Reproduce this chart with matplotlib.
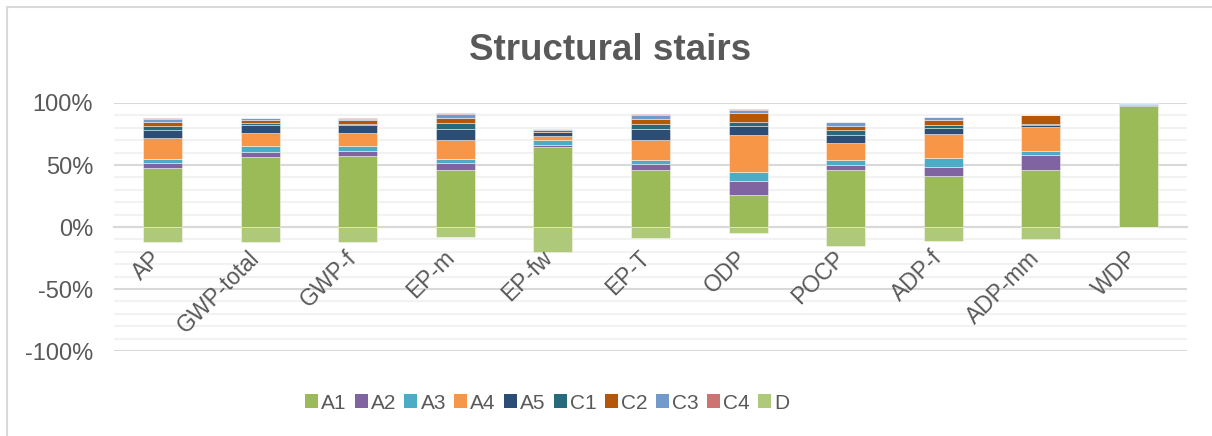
import numpy as np
import matplotlib
matplotlib.use('Agg')
import matplotlib.pyplot as plt
from matplotlib.patches import Patch, Rectangle
from matplotlib.ticker import FuncFormatter, MultipleLocator
from matplotlib.transforms import offset_copy

plt.rcParams['font.family'] = ['Liberation Sans', 'DejaVu Sans']

# kategorie wskaźników
categories = ['AP', 'GWP-total', 'GWP-f', 'EP-m', 'EP-fw', 'EP-T', 'ODP',
              'POCP', 'ADP-f', 'ADP-mm', 'WDP']

# udziały etapów w %
A1 = [47.3, 56.2, 57.0, 46.2, 64.2, 46.2, 26.1, 45.7, 41.1, 46.2, 97.8]
A2 = [4.3, 4.3, 4.0, 5.1, 1.6, 4.6, 11.3, 4.3, 7.3, 11.6, 0.2]
A3 = [3.2, 4.8, 4.3, 3.3, 4.3, 3.5, 7.2, 3.8, 7.2, 3.5, 1.2]
A4 = [17.0, 10.5, 10.2, 15.6, 3.5, 15.6, 29.9, 13.7, 19.1, 19.1, 0.1]
A5 = [6.4, 6.7, 6.8, 8.8, 2.9, 8.9, 7.0, 6.7, 5.4, 2.1, 0.1]
C1 = [3.2, 1.4, 1.0, 4.6, 0.5, 4.3, 3.4, 3.8, 1.9, 0.6, 0.0]
C2 = [3.2, 2.4, 2.7, 4.0, 1.0, 4.0, 7.0, 3.5, 4.3, 7.0, 0.1]
C3 = [2.4, 1.3, 1.1, 3.8, 0.8, 3.5, 2.5, 2.9, 2.1, 0.3, 0.1]
C4 = [0.5, 0.5, 0.5, 0.3, 0.5, 0.5, 0.5, 0.5, 0.6, 0.3, 0.1]
D = [-12.4, -12.4, -12.4, -8.3, -20.4, -8.9, -5.1, -15.1, -11.0, -9.7, 0.0]

stages = ['A1', 'A2', 'A3', 'A4', 'A5', 'C1', 'C2', 'C3', 'C4', 'D']
colours = ['#9BBB59', '#8064A2', '#4BACC6', '#F79646', '#2C4D75',
           '#276A7C', '#B65708', '#729ACA', '#CD7371', '#AFC97A']

txt = '#595959'

fig = plt.figure(figsize=(12.12, 4.36), dpi=100)
ax = fig.add_axes([114/1212, 1-351/436, (1187-114)/1212, (351-103)/436])

x = np.arange(len(categories))
w = 0.4
bottom = np.zeros(len(categories))
for name, vals, c in zip(stages[:-1], [A1, A2, A3, A4, A5, C1, C2, C3, C4], colours[:-1]):
    vals = np.array(vals)
    ax.bar(x, vals, w, bottom=bottom, color=c, edgecolor=(1, 1, 1, 0.5),
           linewidth=0.6, zorder=3)
    bottom += vals
ax.bar(x, D, w, color=colours[-1], edgecolor=(1, 1, 1, 0.5), linewidth=0.6, zorder=3)

ax.set_xlim(-0.5, len(categories) - 0.5)
ax.set_ylim(-100, 100)
ax.yaxis.set_major_locator(MultipleLocator(50))
ax.yaxis.set_minor_locator(MultipleLocator(10))
ax.yaxis.set_major_formatter(FuncFormatter(lambda v, p: f'{v:.0f}%'))
ax.grid(True, which='minor', axis='y', color='#F2F2F2', linewidth=1.5, zorder=0)
ax.grid(True, which='major', axis='y', color='#D9D9D9', linewidth=1.5, zorder=1)
for s in ['top', 'right', 'left']:
    ax.spines[s].set_visible(False)
ax.spines['bottom'].set_position(('data', 0))
ax.spines['bottom'].set_color('#D9D9D9')
ax.spines['bottom'].set_linewidth(1.5)
ax.tick_params(axis='y', which='both', length=0, labelsize=17, labelcolor=txt, pad=15)
ax.set_xticks(x)
ax.tick_params(axis='x', length=0, labelbottom=False)

# etykiety kategorii pod osią 0, obrócone o 45 stopni
lab_tr = offset_copy(ax.transData, fig=fig, x=0, y=-23, units='points')
for xi, name in zip(x, categories):
    ax.text(xi, 0, name, transform=lab_tr, rotation=45, rotation_mode='anchor',
            ha='right', va='baseline', fontsize=16.5, color=txt)

fig.text(0.503, 1-50/436, 'Structural stairs', ha='center', va='center',
         fontsize=26.5, fontweight='bold', color=txt)

handles = [Patch(facecolor=c, edgecolor='none') for c in colours]
fig.legend(handles, stages, loc='center', bbox_to_anchor=(547/1212, 1-403/436), ncol=10,
           frameon=False, fontsize=15, labelcolor=txt, handlelength=0.62, handleheight=0.62,
           handletextpad=0.15, columnspacing=0.4)

fig.patches.append(Rectangle((7/1212, -0.1), 1.2, 1-7/436+0.1, transform=fig.transFigure,
                             fill=False, edgecolor='#D9D9D9', linewidth=1.5))

plt.savefig('out.png', dpi=100)
